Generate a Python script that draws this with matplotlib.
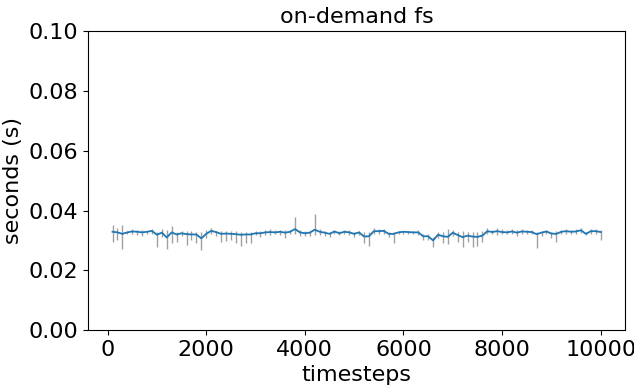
import numpy as np
import matplotlib
matplotlib.use("Agg")
import matplotlib.pyplot as plt

timesteps = list(range(100, 10001, 100))

mean_s = [
    0.0329, 0.0327, 0.0322, 0.0327, 0.0330, 0.0329, 0.0327, 0.0329, 0.0332, 0.0319,
    0.0326, 0.0310, 0.0327, 0.0320, 0.0324, 0.0321, 0.0320, 0.0320, 0.0307, 0.0322,
    0.0332, 0.0328, 0.0322, 0.0323, 0.0322, 0.0321, 0.0319, 0.0320, 0.0320, 0.0324,
    0.0324, 0.0327, 0.0328, 0.0327, 0.0329, 0.0326, 0.0329, 0.0338, 0.0327, 0.0324,
    0.0326, 0.0336, 0.0329, 0.0326, 0.0322, 0.0330, 0.0324, 0.0329, 0.0327, 0.0322,
    0.0327, 0.0313, 0.0314, 0.0331, 0.0331, 0.0332, 0.0322, 0.0322, 0.0327, 0.0329,
    0.0328, 0.0327, 0.0327, 0.0314, 0.0314, 0.0300, 0.0319, 0.0314, 0.0312, 0.0326,
    0.0318, 0.0311, 0.0316, 0.0313, 0.0312, 0.0316, 0.0331, 0.0328, 0.0331, 0.0328,
    0.0327, 0.0330, 0.0326, 0.0330, 0.0329, 0.0328, 0.0321, 0.0326, 0.0330, 0.0323,
    0.0322, 0.0329, 0.0331, 0.0329, 0.0330, 0.0334, 0.0322, 0.0331, 0.0331, 0.0328,
]

upper_s = [
    0.0351, 0.0340, 0.0351, 0.0332, 0.0337, 0.0334, 0.0334, 0.0332, 0.0339, 0.0329,
    0.0337, 0.0334, 0.0348, 0.0329, 0.0332, 0.0332, 0.0332, 0.0329, 0.0329, 0.0334,
    0.0342, 0.0332, 0.0332, 0.0332, 0.0332, 0.0332, 0.0329, 0.0329, 0.0329, 0.0332,
    0.0332, 0.0334, 0.0337, 0.0334, 0.0334, 0.0334, 0.0334, 0.0379, 0.0334, 0.0332,
    0.0332, 0.0387, 0.0337, 0.0332, 0.0329, 0.0334, 0.0332, 0.0334, 0.0334, 0.0329,
    0.0332, 0.0329, 0.0329, 0.0340, 0.0337, 0.0337, 0.0329, 0.0329, 0.0332, 0.0332,
    0.0332, 0.0332, 0.0334, 0.0323, 0.0323, 0.0312, 0.0329, 0.0329, 0.0337, 0.0334,
    0.0329, 0.0332, 0.0329, 0.0329, 0.0329, 0.0332, 0.0340, 0.0334, 0.0343, 0.0337,
    0.0334, 0.0337, 0.0334, 0.0337, 0.0334, 0.0334, 0.0329, 0.0332, 0.0334, 0.0329,
    0.0332, 0.0334, 0.0337, 0.0334, 0.0337, 0.0340, 0.0329, 0.0337, 0.0337, 0.0334,
]

lower_s = [
    0.0295, 0.0303, 0.0273, 0.0320, 0.0320, 0.0318, 0.0316, 0.0323, 0.0323, 0.0279,
    0.0310, 0.0273, 0.0290, 0.0295, 0.0314, 0.0284, 0.0301, 0.0290, 0.0268, 0.0307,
    0.0323, 0.0314, 0.0295, 0.0299, 0.0301, 0.0290, 0.0281, 0.0292, 0.0292, 0.0318,
    0.0312, 0.0318, 0.0318, 0.0320, 0.0318, 0.0307, 0.0320, 0.0323, 0.0314, 0.0314,
    0.0314, 0.0318, 0.0318, 0.0314, 0.0312, 0.0323, 0.0318, 0.0320, 0.0318, 0.0312,
    0.0318, 0.0290, 0.0281, 0.0323, 0.0321, 0.0323, 0.0312, 0.0290, 0.0321, 0.0320,
    0.0321, 0.0321, 0.0318, 0.0301, 0.0303, 0.0279, 0.0307, 0.0290, 0.0288, 0.0314,
    0.0295, 0.0279, 0.0295, 0.0279, 0.0281, 0.0295, 0.0323, 0.0321, 0.0318, 0.0321,
    0.0321, 0.0323, 0.0314, 0.0321, 0.0323, 0.0321, 0.0276, 0.0314, 0.0323, 0.0307,
    0.0295, 0.0321, 0.0323, 0.0323, 0.0321, 0.0326, 0.0318, 0.0323, 0.0323, 0.0301,
]

title = "on-demand fs"
xlabel = "timesteps"
ylabel = "seconds (s)"

x = np.array(timesteps)
m = np.array(mean_s)
lo = np.clip(m - np.array(lower_s), 0, None)
hi = np.clip(np.array(upper_s) - m, 0, None)

fig = plt.figure(figsize=(6.34, 3.88), dpi=100)
ax = fig.add_axes([0.139, 0.149, 0.847, 0.771])
ax.errorbar(x, m, yerr=[lo, hi], color="tab:blue", ecolor=(0.5, 0.5, 0.5, 0.75),
            elinewidth=1.0, linewidth=1.3, capsize=0)
ax.set_ylim(0, 0.1)
ax.set_yticks([0.0, 0.02, 0.04, 0.06, 0.08, 0.10])
ax.set_yticklabels(["0.00", "0.02", "0.04", "0.06", "0.08", "0.10"])
ax.set_xticks([0, 2000, 4000, 6000, 8000, 10000])
ax.tick_params(labelsize=16)
ax.set_title(title, fontsize=16)
ax.set_xlabel(xlabel, fontsize=16)
ax.set_ylabel(ylabel, fontsize=16)
fig.savefig("out.png", dpi=100)
